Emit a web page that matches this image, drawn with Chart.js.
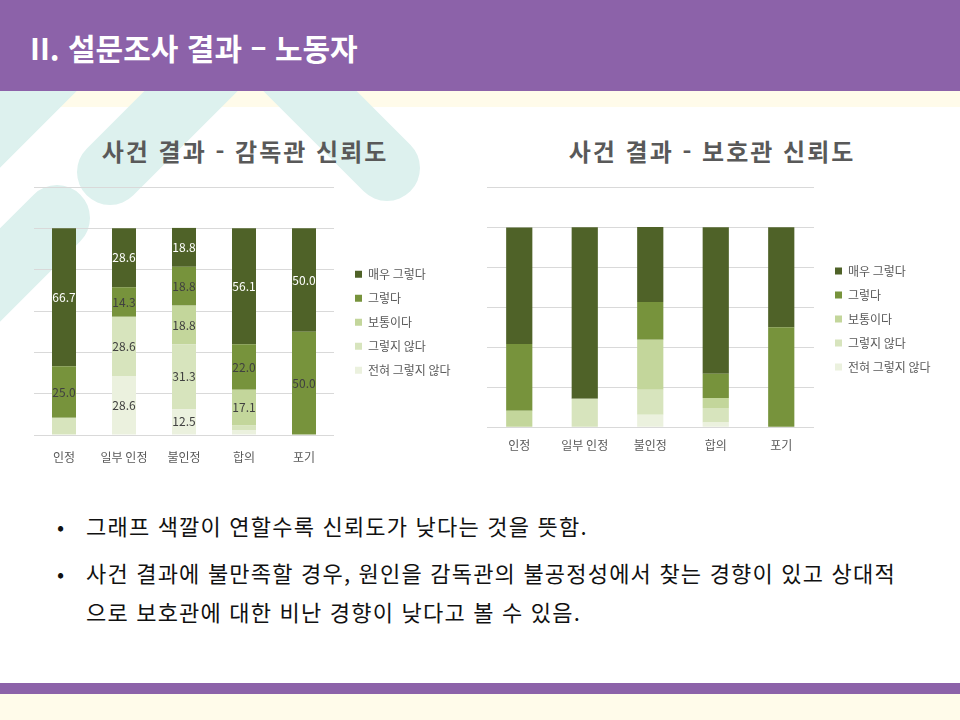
<!DOCTYPE html>
<html lang="ko">
<head>
<meta charset="utf-8">
<script src="https://cdn.jsdelivr.net/npm/chart.js@4.4.1/dist/chart.umd.min.js"></script>
<style>
  body { margin: 0; width: 960px; height: 720px; position: relative; overflow: hidden; background: #fff;
         font-family: "Noto Sans CJK KR", "Noto Sans", sans-serif; }
  .band { position: absolute; height: 66px; border-radius: 33px; background: #ddf1ee; transform-origin: 33px 33px; }
  #cream { position: absolute; left: 0; top: 91px; width: 960px; height: 16px; background: #fffbea; }
  #header { position: absolute; left: 0; top: 0; width: 960px; height: 91px; background: #8c62a9; }
  #header h1 { position: absolute; left: 30px; top: 28px; margin: 0; color: #fff; font-size: 30px; font-weight: bold; line-height: 38px; white-space: nowrap; }
  .ctitle { position: absolute; top: 135px; font-size: 24px; font-weight: bold; color: #595959; letter-spacing: 2px; white-space: nowrap; line-height: 32px; text-align: center; width: 400px; }
  canvas { position: absolute; }
  .line { position: absolute; left: 86px; font-size: 22px; letter-spacing: 1.2px; color: #111; white-space: nowrap; line-height: 30px; }
  .dot { position: absolute; left: 57px; font-size: 21px; color: #111; line-height: 30px; }
  #footer { position: absolute; left: 0; top: 683px; width: 960px; height: 11px; background: #8c62a9; }
  #footcream { position: absolute; left: 0; top: 694px; width: 960px; height: 26px; background: #fffbea; }
</style>
</head>
<body>
<div id="cream"></div>
<div class="band" style="left:-133px; top:188px; width:400px; transform:rotate(-45deg);"></div>
<div class="band" style="left:77px; top:139px; width:260px; transform:rotate(-45deg);"></div>
<div class="band" style="left:354px; top:135px; width:260px; transform:rotate(-135deg);"></div>
<div class="band" style="left:24px; top:185px; width:220px; transform:rotate(135deg);"></div>
<div id="header"><h1>II. 설문조사 결과 – 노동자</h1></div>

<div class="ctitle" style="left:45px;">사건 결과 - 감독관 신뢰도</div>
<div class="ctitle" style="left:512px;">사건 결과 - 보호관 신뢰도</div>

<canvas id="supervisorChart" width="470" height="316" style="left:0; top:170px;"></canvas>
<canvas id="protectorChart" width="500" height="300" style="left:452px; top:170px;"></canvas>

<div class="dot" style="top:511px;">•</div>
<div class="line" style="top:510px;">그래프 색깔이 연할수록 신뢰도가 낮다는 것을 뜻함.</div>
<div class="dot" style="top:558px;">•</div>
<div class="line" style="top:557px;">사건 결과에 불만족할 경우, 원인을 감독관의 불공정성에서 찾는 경향이 있고 상대적</div>
<div class="line" style="top:596px;">으로 보호관에 대한 비난 경향이 낮다고 볼 수 있음.</div>

<div id="footer"></div>
<div id="footcream"></div>

<script>
// categories and answer levels (bottom of the stack first)
const categories = ['인정', '일부 인정', '불인정', '합의', '포기'];
const levels = ['전혀 그렇지 않다', '그렇지 않다', '보통이다', '그렇다', '매우 그렇다'];
const levelColors = ['#ebf1de', '#d7e4bd', '#c3d69b', '#77933c', '#4f6228'];

// 감독관 신뢰도 (%)
const supNotAtAll = [0, 28.6, 12.5, 2.4, 0];
const supNo = [8.3, 28.6, 31.3, 2.4, 0];
const supNeutral = [0, 0, 18.8, 17.1, 0];
const supYes = [25.0, 14.3, 18.8, 22.0, 50.0];
const supVeryYes = [66.7, 28.6, 18.8, 56.1, 50.0];

// 보호관 신뢰도 (%)
const proNotAtAll = [0, 0, 6.3, 2.4, 0];
const proNo = [0, 14.3, 12.5, 7.3, 0];
const proNeutral = [8.3, 0, 25.0, 4.9, 0];
const proYes = [33.3, 0, 18.8, 12.2, 50.0];
const proVeryYes = [58.3, 85.7, 37.5, 73.2, 50.0];

const FONT = '"Noto Sans CJK KR", "Noto Sans", sans-serif';

// value labels in the middle of each segment
const segmentLabels = {
    id: 'segmentLabels',
    afterDatasetsDraw(chart, args, opts) {
        if (!opts.display) return;
        const ctx = chart.ctx;
        const last = chart.data.datasets.length - 1;
        ctx.save();
        ctx.font = '12px ' + FONT;
        ctx.textAlign = 'center';
        ctx.textBaseline = 'middle';
        chart.data.datasets.forEach((ds, i) => {
            chart.getDatasetMeta(i).data.forEach((bar, j) => {
                const v = ds.data[j];
                if (v < opts.minValue) return;
                ctx.fillStyle = i === last ? '#ffffff' : '#404040';
                ctx.fillText(v.toFixed(1), bar.x, (bar.y + bar.base) / 2);
            });
        });
        ctx.restore();
    }
};

// fixed legend width, and move the legend a little away from the plot
const legendShift = {
    id: 'legendShift',
    beforeLayout(chart, args, opts) {
        const l = chart.legend;
        if (!l || l._fixedFit) return;
        const fit = l.fit.bind(l);
        l.fit = function () { fit(); this.width = opts.width; };
        l._fixedFit = true;
    },
    afterLayout(chart, args, opts) {
        const l = chart.legend;
        if (!l) return;
        l.left += opts.dx; l.right += opts.dx;
        l.top += opts.dy; l.bottom += opts.dy;
    }
};

function makeDatasets(series) {
    return series.map((data, i) => ({
        label: levels[i],
        data: data,
        backgroundColor: levelColors[i],
        borderWidth: 0,
        barPercentage: 0.4,
        categoryPercentage: 1.0
    }));
}

function renderChart(id, series, opts) {
    const ctx = document.getElementById(id).getContext('2d');
    new Chart(ctx, {
        type: 'bar',
        data: { labels: categories, datasets: makeDatasets(series) },
        plugins: [segmentLabels, legendShift],
        options: {
            responsive: false,
            animation: false,
            layout: { padding: opts.padding },
            scales: {
                x: {
                    stacked: true,
                    grid: { display: false, drawTicks: false },
                    border: { display: false },
                    ticks: { color: '#595959', font: { family: FONT, size: 12 }, padding: opts.tickPadding }
                },
                y: {
                    stacked: true,
                    min: 0,
                    max: 120,
                    grid: { color: '#d9d9d9', drawTicks: false },
                    border: { display: false },
                    ticks: { display: false, stepSize: 20 }
                }
            },
            plugins: {
                tooltip: { enabled: false },
                legend: {
                    position: 'right',
                    reverse: true,
                    labels: {
                        boxWidth: 7,
                        boxHeight: 7,
                        padding: 12,
                        color: '#595959',
                        font: { family: FONT, size: 12 }
                    }
                },
                segmentLabels: { display: opts.showLabels, minValue: 10 },
                legendShift: { width: 125, dx: 9, dy: opts.legendDy }
            }
        }
    });
}

document.addEventListener('DOMContentLoaded', function () {
    renderChart('supervisorChart',
        [supNotAtAll, supNo, supNeutral, supYes, supVeryYes],
        { padding: { left: 34, right: 11, top: 17, bottom: 6.6 }, tickPadding: 15, showLabels: true, legendDy: -11 });
    renderChart('protectorChart',
        [proNotAtAll, proNo, proNeutral, proYes, proVeryYes],
        { padding: { left: 34.5, right: 13, top: 17.3, bottom: 6.3 }, tickPadding: 11, showLabels: false, legendDy: -6.5 });
});
</script>
</body>
</html>
